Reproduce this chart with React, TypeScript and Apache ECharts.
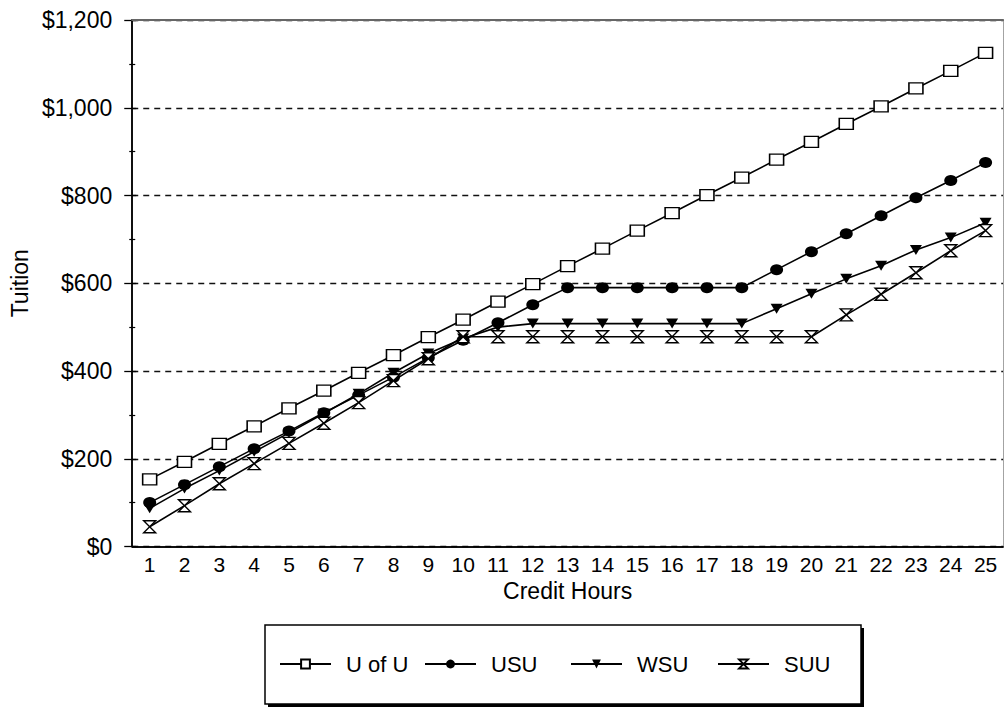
import React, { useEffect, useRef } from "react";
import * as echarts from "echarts";

const creditHours = [
  "1", "2", "3", "4", "5", "6", "7", "8", "9", "10", "11", "12", "13",
  "14", "15", "16", "17", "18", "19", "20", "21", "22", "23", "24", "25",
];
const uOfU = [153, 193, 234, 274, 315, 355, 396, 436, 477, 517, 558, 598, 639, 679, 720, 760, 801, 841, 882, 922, 963, 1003, 1044, 1084, 1125];
const usu = [100, 141, 182, 223, 263, 305, 345, 386, 430, 470, 510, 551, 590, 590, 590, 590, 590, 590, 631, 672, 713, 754, 795, 834, 875];
const wsu = [87, 132, 173, 216, 259, 303, 348, 396, 440, 474, 500, 508, 508, 508, 508, 508, 508, 508, 542, 576, 610, 640, 676, 704, 738];
const suu = [45, 93, 143, 189, 235, 281, 328, 378, 428, 478, 478, 478, 478, 478, 478, 478, 478, 478, 478, 478, 528, 575, 624, 674, 720];

const seriesNames = ["U of U", "USU", "WSU", "SUU"];
const yMin = 0;
const yMax = 1200;
const yInterval = 200;

const FONT = "'Liberation Sans', Arial, Helvetica, sans-serif";
const HOURGLASS = "path://M0,0L10,0L0,10L10,10Z";

export default function App() {
  const ref = useRef<HTMLDivElement>(null);
  useEffect(() => {
    document.body.style.margin = "0";
    const chart = echarts.init(ref.current!, null, { renderer: "svg" });
    const lineStyle = { color: "#000", width: 1.6 };
    const legendBase = {
      top: 653,
      padding: 0,
      itemWidth: 51,
      itemHeight: 11,
      selectedMode: false,
      textStyle: { fontFamily: FONT, fontSize: 22, color: "#000", padding: [0, 0, 0, 10] },
      z: 10,
    };
    chart.setOption({
      animation: false,
      backgroundColor: "#fff",
      textStyle: { fontFamily: FONT },
      grid: { left: 130, right: 1, top: 20, bottom: 164.5 },
      graphic: [
        { type: "rect", z: 1, shape: { x: 268, y: 628, width: 596, height: 79 }, style: { fill: "#000" } },
        { type: "rect", z: 2, shape: { x: 265, y: 625, width: 596, height: 79 }, style: { fill: "#fff", stroke: "#000", lineWidth: 1.5 } },
      ],
      legend: [
        { ...legendBase, left: 279, data: [seriesNames[0]] },
        { ...legendBase, left: 424, data: [seriesNames[1]] },
        { ...legendBase, left: 570, data: [seriesNames[2]] },
        { ...legendBase, left: 717, data: [seriesNames[3]] },
      ],
      xAxis: [
        {
          type: "category",
          data: creditHours,
          boundaryGap: true,
          position: "bottom",
          name: "Credit Hours",
          nameLocation: "middle",
          nameGap: 28,
          nameTextStyle: { fontFamily: FONT, fontSize: 23, color: "#000" },
          axisLine: { lineStyle: { color: "#000", width: 1.5 } },
          axisTick: { alignWithLabel: true, length: 7, lineStyle: { color: "#000", width: 1.3 } },
          axisLabel: { fontFamily: FONT, fontSize: 21, color: "#000", margin: 7 },
          splitLine: { show: false },
        },
        {
          type: "category",
          data: creditHours,
          boundaryGap: true,
          position: "bottom",
          axisLine: { lineStyle: { color: "#000", width: 1.5 } },
          axisTick: { alignWithLabel: true, inside: true, length: 8, lineStyle: { color: "#000", width: 1.3 } },
          axisLabel: { show: false },
          splitLine: { show: false },
        },
        {
          type: "category",
          data: creditHours,
          boundaryGap: true,
          position: "top",
          z: 5,
          axisLine: { onZero: false, lineStyle: { color: "#666", width: 2.2 } },
          axisTick: { show: false },
          axisLabel: { show: false },
          splitLine: { show: false },
        },
      ],
      yAxis: [
        {
          type: "value",
          min: yMin,
          max: yMax,
          interval: yInterval,
          position: "left",
          name: "Tuition",
          nameLocation: "middle",
          nameGap: 101,
          nameRotate: 90,
          nameTextStyle: { fontFamily: FONT, fontSize: 23, color: "#000" },
          axisLine: { show: true, lineStyle: { color: "#000", width: 1.5 } },
          axisTick: { show: true, length: 8, lineStyle: { color: "#000", width: 1.3 } },
          minorTick: { show: true, splitNumber: 2, length: 3, lineStyle: { color: "#000", width: 1.2 } },
          axisLabel: {
            fontFamily: FONT,
            fontSize: 23,
            color: "#000",
            margin: 20,
            formatter: (v: number) => "$" + v.toLocaleString("en-US"),
          },
          splitLine: { show: true, lineStyle: { color: "#111", width: 1.4, type: [6, 5] } },
        },
        {
          type: "value",
          min: yMin,
          max: yMax,
          interval: yInterval,
          position: "left",
          axisLine: { show: true, lineStyle: { color: "#000", width: 1.5 } },
          axisTick: { show: true, inside: true, length: 4, lineStyle: { color: "#000", width: 1.3 } },
          minorTick: { show: true, splitNumber: 2, length: 3, lineStyle: { color: "#000", width: 1.2 } },
          axisLabel: { show: false },
          splitLine: { show: false },
        },
        {
          type: "value",
          min: yMin,
          max: yMax,
          interval: yInterval,
          position: "right",
          axisLine: { show: true, lineStyle: { color: "#999", width: 1, type: "dotted" } },
          axisTick: { show: false },
          axisLabel: { show: false },
          splitLine: { show: false },
        },
      ],
      series: [
        {
          name: seriesNames[0],
          type: "line",
          data: uOfU,
          symbol: "rect",
          symbolSize: [14, 11],
          lineStyle,
          itemStyle: { color: "#fff", borderColor: "#000", borderWidth: 1.4 },
        },
        {
          name: seriesNames[1],
          type: "line",
          data: usu,
          symbol: "circle",
          symbolSize: [13, 11],
          lineStyle,
          itemStyle: { color: "#000", borderColor: "#000", borderWidth: 0 },
        },
        {
          name: seriesNames[2],
          type: "line",
          data: wsu,
          symbol: "triangle",
          symbolRotate: 180,
          symbolSize: [12, 10],
          lineStyle,
          itemStyle: { color: "#000", borderColor: "#000", borderWidth: 0 },
        },
        {
          name: seriesNames[3],
          type: "line",
          data: suu,
          symbol: HOURGLASS,
          symbolSize: [12, 12],
          lineStyle,
          itemStyle: { color: "#fff", borderColor: "#000", borderWidth: 1.4 },
        },
      ],
    });
    return () => chart.dispose();
  }, []);
  return <div ref={ref} style={{ width: 1004, height: 711 }} />;
}
